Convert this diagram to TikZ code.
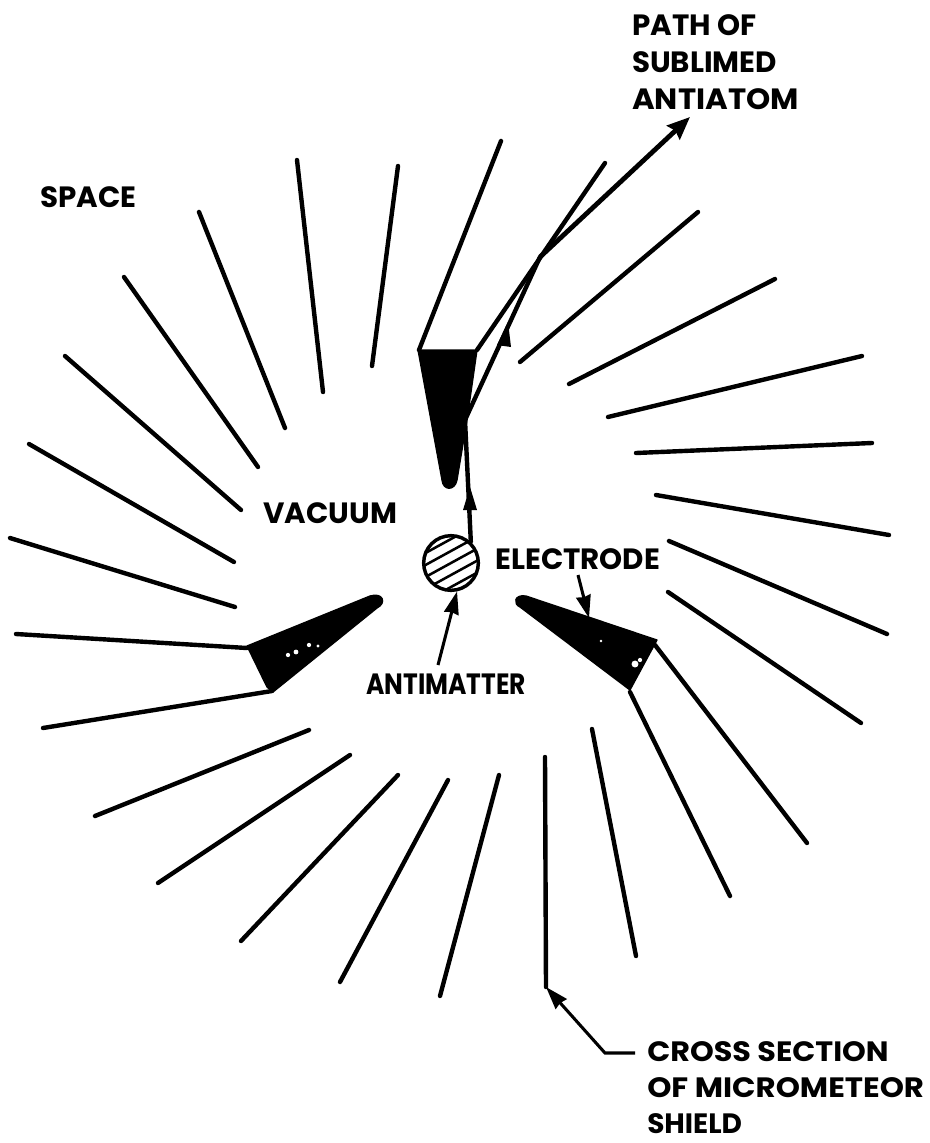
\documentclass[tikz,border=0pt]{standalone}
\usepackage{fontspec}
\setmainfont{Poppins}
\usetikzlibrary{arrows.meta}
\tikzset{
 shield/.style={line width=3.3pt,line cap=round,line join=round,black},
 lab/.style={font=\fontsize{22}{28}\selectfont\bfseries,inner sep=0pt,align=left,text=black},
 pointer/.style={line width=2.3pt,-{Stealth[length=17pt,width=11pt,inset=1pt]}},
 pathline/.style={line width=3.3pt,line cap=round,line join=round},
 elec/.style={fill=black,draw=black,line width=1pt,line join=round},
 speck/.style={fill=white,draw=none}
}
\begin{document}
\begin{tikzpicture}[x=0.75pt,y=-0.75pt]
\useasboundingbox (0,0) rectangle (930,1143);
\fill[white] (0,0) rectangle (930,1143);
% shield slats
\foreach \a/\b/\c/\d in {
398/166/372/366, 297/160/323/392, 199/212/285/428, 124/277/258/467,
65/356/241/510, 29/444/234/562, 10/538/235/607,
95/816/309/730, 158/883/350/755, 241/941/398/775, 340/982/448/780, 440/996/499/775,
592/729/636/956, 630/692/730/896, 655/645/807/843, 668/592/861/723, 669/541/887/634,
656/495/889/535, 636/453/872/443, 608/417/862/356, 569/384/775/279, 520/362/698/212}
 \draw[shield] (\a,\b) -- (\c,\d);
% electrode-attached slats
\draw[shield] (501,141) -- (419,350);
\draw[shield] (605,163) -- (477,350);
\draw[shield] (16,634) -- (247,648);
\draw[shield] (43,728) -- (272,691);
% electrodes
\path[elec] (418,350) -- (477,350) -- (467,420) -- (457,480)
  .. controls (455,491) and (443,491) .. (442,480) -- cycle;
\path[elec] (247,646) -- (370,596) .. controls (383,592) and (387,603) .. (377,608)
  -- (273,692) -- (267,687) -- cycle;
\path[elec] (657,640) -- (526,596) .. controls (514,594) and (513,604) .. (520,607)
  -- (630,690) -- cycle;
\fill[speck] (288,655) circle (1.6pt) (296,652) circle (1.8pt) (309,645) circle (1.6pt) (318,646) circle (1.3pt);
\fill[speck] (635,664) circle (2.6pt) (640,660) circle (1.6pt) (601,641) circle (1pt);
% antimatter
\begin{scope}
\clip (451,563) circle (27);
\foreach \o in {-48,-36,-24,-12,0,12,24,36,48}
 \draw[line width=1.9pt] (420,{563+\o+17}) -- (482,{563+\o-17});
\end{scope}
\node[circle,draw=black,line width=2.6pt,minimum size=41pt,inner sep=0pt] (atom) at (451,563) {};
% labels
\node[lab,anchor=north west] (plabel) at (632,14) {PATH OF\\SUBLIMED\\\scalebox{1.05}[1]{ANTIATOM}};
\node[lab,anchor=west] (space) at (40,197) {SPACE};
\node[lab,anchor=west] (vacuum) at (263,513) {VACUUM};
\node[lab,anchor=west] (electrode) at (495,559) {ELECTRODE};
\node[lab,anchor=west] (antimatter) at (366,684) {\scalebox{0.85}[1]{ANTIMATTER}};
\node[lab,anchor=north west,font=\fontsize{21}{27}\selectfont\bfseries] (cross) at (647,1041) {\scalebox{1.08}[1]{CROSS SECTION}\\\scalebox{1.1}[1]{OF MICROMETEOR}\\SHIELD};
% path of sublimed antiatom
\coordinate (p1) at (465,420);
\coordinate (p2) at (540,257);
\coordinate (p3) at (690,117);
\draw[pathline] (atom.47) -- (p1) -- (p2);
\draw[line width=3.6pt,-{Stealth[length=17pt,width=14pt,inset=2pt]}] (p2) -- (p3);
\fill (470,487) -- (477,510) -- (463,510) -- cycle;
\fill (508,322) -- (511,347) -- (497,345) -- cycle;
% pointers
\coordinate (amfrom) at (438,665);
\draw[pointer] (amfrom) -- (atom.282);
\coordinate (elfrom) at (578,575);
\coordinate (elto) at (589,618);
\draw[pointer] (elfrom) -- (elto);
\coordinate (cstop) at (545,757);
\coordinate (cscorner) at (546,987);
\coordinate (csbend) at (605,1053);
\coordinate (csstart) at (635,1053);
\draw[line width=3.3pt,line cap=round] (cstop) -- (cscorner);
\draw[pointer] (csstart) -- (csbend) -- (cscorner);
\end{tikzpicture}
\end{document}
